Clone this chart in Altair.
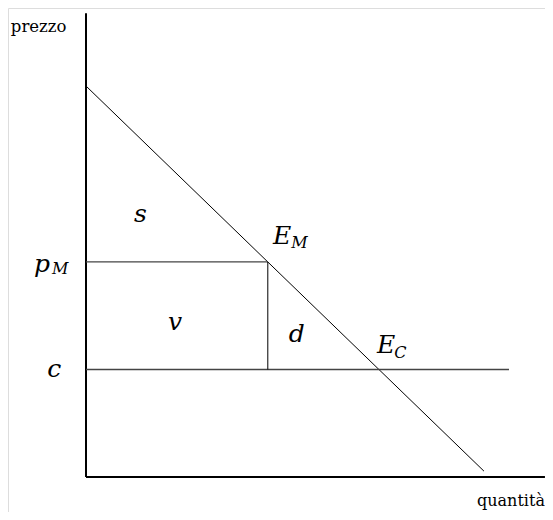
import altair as alt
import pandas as pd

# Economic quantities (q = quantity, p = price)
demand_q = [0, 98.5]
demand_p = [100, 1.5]
p_M = 55
c_cost = 27.5
q_M = 45
q_C = 72.5
c_line_end = 104.7
axis_q_max = 113.6
axis_p_max = 118.6

# Label texts and their positions (q, p)
big_text = ["p", "c", "s", "v", "d", "E", "E"]
big_q = [-12.9, -9.6, 11.9, 20.3, 50.2, 46.3, 72.0]
big_p = [52.4, 25.6, 65.2, 37.6, 34.5, 59.6, 31.7]

sub_text = ["M", "M", "C"]
sub_q = [-8.4, 50.8, 76.3]
sub_p = [52.0, 58.6, 30.4]

axis_text = ["prezzo", "quantità"]
axis_q = [-18.6, 113.6]
axis_p = [113.8, -7.4]
axis_align = ["left", "right"]

W, H = 537, 504
# page pixel mapping: x = 86 + 4.04*q, y = 477 - 3.91*p ; plot area starts at page (8, 8)
xs = alt.Scale(domain=[(8 - 86) / 4.04, (8 + W - 86) / 4.04], nice=False, zero=False)
ys = alt.Scale(domain=[(477 - 8 - H) / 3.91, (477 - 8) / 3.91], nice=False, zero=False)

FONT = "DejaVu Serif"

def X(field):
    return alt.X(field, type="quantitative", scale=xs, axis=None)

def Y(field):
    return alt.Y(field, type="quantitative", scale=ys, axis=None)

axes_df = pd.DataFrame({
    "q": [0, 0], "p": [0, 0],
    "q2": [0, axis_q_max], "p2": [axis_p_max, 0],
})
axes = alt.Chart(axes_df).mark_rule(color="black", strokeWidth=2).encode(
    x=X("q"), y=Y("p"), x2="q2", y2="p2"
)

demand_df = pd.DataFrame({"q": demand_q, "p": demand_p})
demand = alt.Chart(demand_df).mark_line(color="black", strokeWidth=1).encode(
    x=X("q"), y=Y("p")
)

hl_df = pd.DataFrame({
    "q": [0, 0], "q2": [q_M, c_line_end], "p": [p_M, c_cost], "p2": [p_M, c_cost],
})
hlines = alt.Chart(hl_df).mark_rule(color="#444", strokeWidth=1.3).encode(
    x=X("q"), x2="q2", y=Y("p"), y2="p2"
)

vl_df = pd.DataFrame({"q": [q_M], "q2": [q_M], "p": [c_cost], "p2": [p_M]})
vline = alt.Chart(vl_df).mark_rule(color="black", strokeWidth=1).encode(
    x=X("q"), x2="q2", y=Y("p"), y2="p2"
)

big_df = pd.DataFrame({"t": big_text, "q": big_q, "p": big_p})
big = alt.Chart(big_df).mark_text(
    font=FONT, fontStyle="italic", fontSize=25, align="left", baseline="alphabetic", color="black"
).encode(x=X("q"), y=Y("p"), text="t")

sub_df = pd.DataFrame({"t": sub_text, "q": sub_q, "p": sub_p})
sub = alt.Chart(sub_df).mark_text(
    font=FONT, fontStyle="italic", fontSize=16, align="left", baseline="alphabetic", color="black"
).encode(x=X("q"), y=Y("p"), text="t")

ax_df = pd.DataFrame({"t": axis_text, "q": axis_q, "p": axis_p, "a": axis_align})
ax_left = alt.Chart(ax_df[ax_df["a"] == "left"]).mark_text(
    font=FONT, fontSize=16.5, align="left", baseline="alphabetic", color="black"
).encode(x=X("q"), y=Y("p"), text="t")
ax_right = alt.Chart(ax_df[ax_df["a"] == "right"]).mark_text(
    font=FONT, fontSize=16, align="right", baseline="alphabetic", color="black"
).encode(x=X("q"), y=Y("p"), text="t")

chart = alt.layer(axes, demand, hlines, vline, big, sub, ax_left, ax_right).properties(
    width=W, height=H, autosize=alt.AutoSizeParams(type="none"), padding=0
).configure_view(stroke=None).configure(background="white")

chart.save("out.html", embed_options={"renderer": "svg", "actions": False})
